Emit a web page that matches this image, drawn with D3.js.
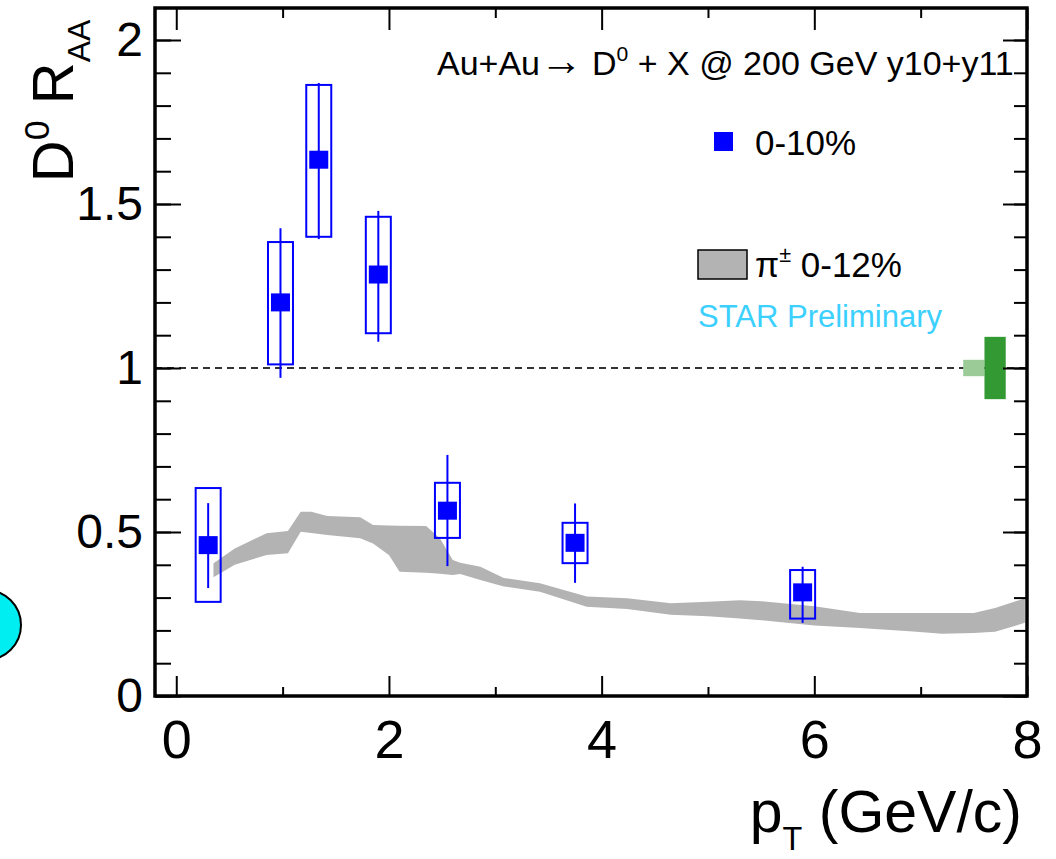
<!DOCTYPE html>
<html>
<head>
<meta charset="utf-8">
<script src="https://cdn.jsdelivr.net/npm/d3@7"></script>
<style>
  body { margin: 0; background: #fff; }
  svg { font-family: "Liberation Sans", Arial, sans-serif; }
</style>
</head>
<body>
<svg id="chart" width="1056" height="859"></svg>
<script>
// D0 RAA points, 0-10%
var ptD = [0.30, 0.98, 1.34, 1.90, 2.55, 3.75, 5.89];
var raaD = [0.46, 1.20, 1.635, 1.285, 0.565, 0.467, 0.316];
var statLo = [0.329, 0.970, 1.393, 1.080, 0.396, 0.345, 0.223];
var statHi = [0.588, 1.426, 1.869, 1.479, 0.735, 0.587, 0.394];
var sysLo = [0.287, 1.011, 1.400, 1.106, 0.482, 0.405, 0.236];
var sysHi = [0.634, 1.384, 1.863, 1.461, 0.650, 0.528, 0.384];

// pion RAA band, 0-12%
var ptPi = [0.35, 0.55, 0.85, 1.05, 1.17, 1.27, 1.42, 1.73, 1.85, 2.0, 2.1, 2.35, 2.48, 2.6, 2.67, 2.86, 3.08, 3.42, 3.86, 4.24, 4.65, 5.0, 5.3, 5.5, 6.0, 6.43, 6.93, 7.2, 7.5, 7.7, 7.98];
var piHi = [0.405, 0.45, 0.496, 0.503, 0.562, 0.562, 0.549, 0.545, 0.521, 0.520, 0.519, 0.518, 0.48, 0.415, 0.406, 0.394, 0.36, 0.344, 0.303, 0.298, 0.283, 0.287, 0.292, 0.289, 0.274, 0.253, 0.253, 0.253, 0.253, 0.268, 0.298];
var piLo = [0.362, 0.40, 0.43, 0.435, 0.501, 0.497, 0.491, 0.481, 0.465, 0.43, 0.379, 0.376, 0.373, 0.369, 0.372, 0.354, 0.334, 0.318, 0.272, 0.265, 0.248, 0.243, 0.236, 0.231, 0.215, 0.207, 0.197, 0.19, 0.192, 0.196, 0.223];

// normalisation uncertainties at RAA = 1
var normX0 = [7.4, 7.6];
var normX1 = [7.6, 7.8];
var normLo = [0.975, 0.905];
var normHi = [1.025, 1.095];

var xMajor = [0, 2, 4, 6, 8];
var xMinor = [1, 3, 5, 7];
var yMajor = [0, 0.5, 1, 1.5, 2];
var yMinor = d3.range(0, 21).map(function (i) { return i / 10; });

var svg = d3.select("#chart");

var x = d3.scaleLinear().domain([-0.2, 8]).range([155, 1027]);
var y = d3.scaleLinear().domain([0, 2.1]).range([696, 7.2]);

var blue = "#0000ff";
var grey = "#b3b3b3";

// stray cyan circle at left edge
svg.append("circle")
    .attr("cx", -14).attr("cy", 625).attr("r", 35)
    .attr("fill", "#00eef2").attr("stroke", "#000").attr("stroke-width", 2);

// dashed line at 1
svg.append("line")
    .attr("x1", x(-0.2)).attr("x2", x(8))
    .attr("y1", y(1)).attr("y2", y(1))
    .attr("stroke", "#333").attr("stroke-width", 2)
    .attr("stroke-dasharray", "7,5");

// pion band
var band = ptPi.map(function (d, i) { return {x: d, lo: piLo[i], hi: piHi[i]}; });
svg.append("path")
    .datum(band)
    .attr("fill", grey)
    .attr("d", d3.area()
        .x(function (d) { return x(d.x); })
        .y0(function (d) { return y(d.lo); })
        .y1(function (d) { return y(d.hi); }));

// normalisation boxes
svg.selectAll("rect.norm")
    .data(normX0)
    .enter().append("rect")
    .attr("class", "norm")
    .attr("x", function (d) { return x(d); })
    .attr("width", function (d, i) { return x(normX1[i]) - x(d); })
    .attr("y", function (d, i) { return y(normHi[i]); })
    .attr("height", function (d, i) { return y(normLo[i]) - y(normHi[i]); })
    .attr("fill", function (d, i) { return i == 0 ? "#9bcc98" : "#339933"; });

// D0 points: sys boxes, stat bars, markers
var pts = ptD.map(function (d, i) {
    return {x: d, v: raaD[i], sl: statLo[i], sh: statHi[i], yl: sysLo[i], yh: sysHi[i]};
});
var g = svg.append("g");
g.selectAll("rect.sys")
    .data(pts)
    .enter().append("rect")
    .attr("class", "sys")
    .attr("x", function (d) { return x(d.x) - 12.5; })
    .attr("width", 25)
    .attr("y", function (d) { return y(d.yh); })
    .attr("height", function (d) { return y(d.yl) - y(d.yh); })
    .attr("fill", "none").attr("stroke", blue).attr("stroke-width", 2);
g.selectAll("line.stat")
    .data(pts)
    .enter().append("line")
    .attr("class", "stat")
    .attr("x1", function (d) { return x(d.x); })
    .attr("x2", function (d) { return x(d.x); })
    .attr("y1", function (d) { return y(d.sl); })
    .attr("y2", function (d) { return y(d.sh); })
    .attr("stroke", blue).attr("stroke-width", 2);
g.selectAll("rect.mk")
    .data(pts)
    .enter().append("rect")
    .attr("class", "mk")
    .attr("x", function (d) { return x(d.x) - 9.5; })
    .attr("y", function (d) { return y(d.v) - 9; })
    .attr("width", 19).attr("height", 18)
    .attr("fill", blue);

// axes (ticks inside the frame)
function noText(sel) { sel.selectAll("text").remove(); sel.select(".domain").remove(); }
var tw = 2;
svg.append("g").attr("transform", "translate(155,0)")
    .call(d3.axisLeft(y).tickValues(yMinor).tickSize(-16).tickFormat(""))
    .call(noText).selectAll("line").attr("stroke-width", tw);
svg.append("g").attr("transform", "translate(155,0)")
    .call(d3.axisLeft(y).tickValues(yMajor).tickSize(-26).tickPadding(12)
        .tickFormat(function (d) { return d; }))
    .call(function (s) { s.select(".domain").remove(); })
    .call(function (s) {
        s.selectAll("line").attr("stroke-width", tw);
        s.selectAll("text").attr("font-size", 48).attr("font-family", "Liberation Sans, Arial").attr("fill", "#000");
    });
svg.append("g").attr("transform", "translate(1027,0)")
    .call(d3.axisRight(y).tickValues(yMinor).tickSize(-13).tickFormat(""))
    .call(noText).selectAll("line").attr("stroke-width", tw);
svg.append("g").attr("transform", "translate(1027,0)")
    .call(d3.axisRight(y).tickValues(yMajor).tickSize(-24).tickFormat(""))
    .call(noText).selectAll("line").attr("stroke-width", tw);

svg.append("g").attr("transform", "translate(0,696)")
    .call(d3.axisBottom(x).tickValues(xMinor).tickSize(-9).tickFormat(""))
    .call(noText).selectAll("line").attr("stroke-width", tw);
svg.append("g").attr("transform", "translate(0,696)")
    .call(d3.axisBottom(x).tickValues(xMajor).tickSize(-20).tickPadding(24)
        .tickFormat(function (d) { return d; }))
    .call(function (s) { s.select(".domain").remove(); })
    .call(function (s) {
        s.selectAll("line").attr("stroke-width", tw);
        s.selectAll("text").attr("font-size", 54).attr("font-family", "Liberation Sans, Arial").attr("fill", "#000");
    });
svg.append("g").attr("transform", "translate(0,8)")
    .call(d3.axisTop(x).tickValues(xMinor).tickSize(-10).tickFormat(""))
    .call(noText).selectAll("line").attr("stroke-width", tw);
svg.append("g").attr("transform", "translate(0,8)")
    .call(d3.axisTop(x).tickValues(xMajor).tickSize(-22).tickFormat(""))
    .call(noText).selectAll("line").attr("stroke-width", tw);

// frame
svg.append("rect")
    .attr("x", 155).attr("y", 8).attr("width", 1027 - 155).attr("height", 696 - 8)
    .attr("fill", "none").attr("stroke", "#000").attr("stroke-width", 3.5);

// text with super/subscripts
function rich(t, parts, fs) {
    parts.forEach(function (p) {
        var ts = t.append("tspan").text(p[0]);
        if (p[1] == "sup") ts.attr("font-size", fs * 0.62).attr("dy", -fs * 0.42);
        if (p[1] == "sub") ts.attr("font-size", fs * 0.55).attr("dy", fs * 0.3);
        if (p[1] == "big") ts.attr("font-size", fs * 1.25);
        if (p[1] == "back") ts.attr("dy", p[2]);
    });
}

var t1 = svg.append("text").attr("x", 437).attr("y", 75).attr("font-size", 34);
rich(t1, [["Au+Au"], ["\u2192", "big"], [" D"], ["0", "sup"], [" + X @ 200 GeV y10+y11", "back", 34 * 0.42]], 34);

// legend
svg.append("rect").attr("x", 714).attr("y", 132).attr("width", 19).attr("height", 19).attr("fill", blue);
svg.append("text").attr("x", 755).attr("y", 155).attr("font-size", 35).text("0-10%");
svg.append("rect").attr("x", 698).attr("y", 250).attr("width", 49).attr("height", 29)
    .attr("fill", grey).attr("stroke", "#000").attr("stroke-width", 1.5);
var t2 = svg.append("text").attr("x", 755).attr("y", 277).attr("font-size", 35);
rich(t2, [["\u03c0"], ["\u00b1", "sup"], [" 0-12%", "back", 35 * 0.42]], 35);
svg.append("text").attr("x", 698).attr("y", 327).attr("font-size", 31)
    .attr("fill", "#3cd0ff").text("STAR Preliminary");

// axis titles
var ty = svg.append("text")
    .attr("transform", "translate(73,101) rotate(-90)")
    .attr("text-anchor", "middle").attr("font-size", 58);
rich(ty, [["D"], ["0", "sup"], [" R", "back", 58 * 0.42], ["AA", "sub"]], 58);

var tx = svg.append("text")
    .attr("x", 1022).attr("y", 832).attr("text-anchor", "end").attr("font-size", 59);
rich(tx, [["p"], ["T", "sub"], [" (GeV/c)", "back", -59 * 0.3]], 59);
</script>
</body>
</html>
